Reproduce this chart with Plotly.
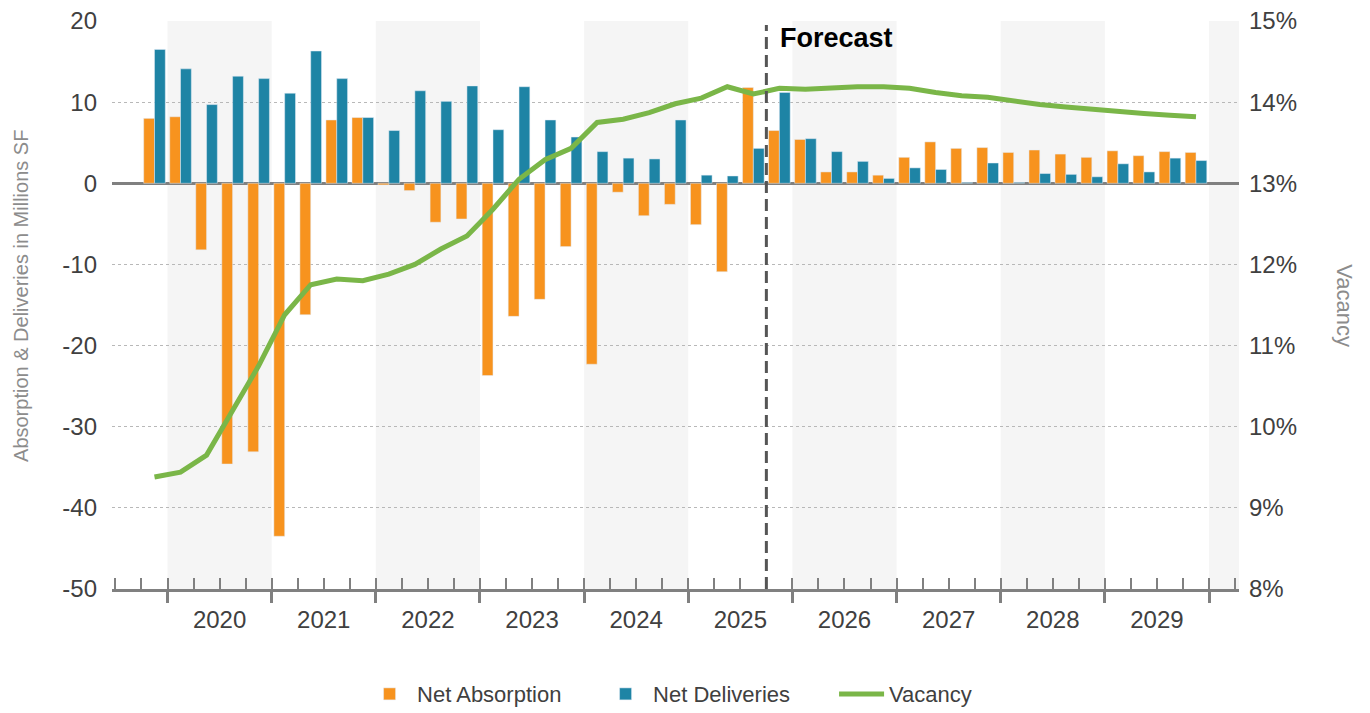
import plotly.graph_objects as go

# Quarterly absorption / deliveries (millions SF) and vacancy (%), 2019 Q4 - 2029 Q4
quarters = ["2019 Q4"] + [f"{y} Q{q}" for y in range(2020, 2030) for q in range(1, 5)]

net_absorption = [8.0,
                  8.2, -8.2, -34.6, -33.1,
                  -43.5, -16.2, 7.8, 8.1,
                  -0.2, -0.9, -4.8, -4.4,
                  -23.7, -16.4, -14.3, -7.8,
                  -22.3, -1.1, -4.0, -2.6,
                  -5.1, -10.9, 11.8, 6.5,
                  5.4, 1.4, 1.4, 1.0,
                  3.2, 5.1, 4.3, 4.4,
                  3.8, 4.1, 3.6, 3.2,
                  4.0, 3.4, 3.9, 3.8]

net_deliveries = [16.5,
                  14.1, 9.7, 13.2, 12.9,
                  11.1, 16.3, 12.9, 8.1,
                  6.5, 11.4, 10.1, 12.0,
                  6.6, 11.9, 7.8, 5.7,
                  3.9, 3.1, 3.0, 7.8,
                  1.0, 0.9, 4.3, 11.2,
                  5.5, 3.9, 2.7, 0.6,
                  1.9, 1.7, 0.1, 2.5,
                  0.1, 1.2, 1.1, 0.8,
                  2.4, 1.4, 3.1, 2.8]

vacancy = [9.38,
           9.44, 9.65, 10.21, 10.75,
           11.38, 11.75, 11.82, 11.80,
           11.88, 12.00, 12.19, 12.35,
           12.68, 13.05, 13.29, 13.43,
           13.75, 13.79, 13.87, 13.98,
           14.05, 14.19, 14.10, 14.17,
           14.16, 14.18, 14.19, 14.19,
           14.17, 14.12, 14.08, 14.06,
           14.01, 13.97, 13.94, 13.91,
           13.88, 13.86, 13.84, 13.82]

years = list(range(2020, 2030))
left_ticks = list(range(-50, 21, 10))
right_ticks = list(range(8, 16))
forecast_start = "2025 Q4"

ORANGE = "#F7931E"
TEAL = "#1E84A5"
GREEN = "#7AB648"
AXIS_GREY = "#808080"
TEXT = "#404040"
TITLE_GREY = "#8C8C8C"
FONT = "Arial, Liberation Sans, sans-serif"


def qpos(label):
    # centre of the quarter, in year units
    y, q = label.split(" Q")
    return int(y) + (int(q) - 0.5) / 4


x = [qpos(q) for q in quarters]
x_range = [2019.467, 2030.288]

fig = go.Figure()
fig.add_trace(go.Bar(x=x, y=net_absorption, name="Net Absorption", marker_color=ORANGE))
fig.add_trace(go.Bar(x=x, y=net_deliveries, name="Net Deliveries", marker_color=TEAL))
fig.add_trace(go.Scatter(x=x, y=vacancy, name="Vacancy", yaxis="y2", mode="lines",
                         line=dict(color=GREEN, width=5)))
# empty trace so the year-boundary tick axis gets drawn
fig.add_trace(go.Scatter(x=[], y=[], xaxis="x2", showlegend=False, hoverinfo="skip"))

# alternate year shading
shapes = []
for yr in range(2020, 2032, 2):
    shapes.append(dict(type="rect", xref="x", yref="paper", x0=yr, x1=yr + 1, y0=0, y1=1,
                       fillcolor="#F5F5F5", line_width=0, layer="below"))

# forecast divider
fx = qpos(forecast_start) - 0.125
shapes.append(dict(type="line", xref="x", yref="paper", x0=fx, x1=fx, y0=0, y1=0.993,
                   line=dict(color="#555555", width=3, dash="12px,6px")))

quarter_bounds = [2019.5 + 0.25 * i for i in range(44)]

# page body has an 8px margin, so the figure is a little smaller than the window
fig.update_layout(
    width=1362, height=705,
    margin=dict(l=104, r=131, t=13, b=124, autoexpand=False),
    paper_bgcolor="white", plot_bgcolor="white",
    font=dict(family=FONT, color=TEXT),
    barmode="group", bargap=0.17, bargroupgap=0,
    shapes=shapes,
    showlegend=True,
    legend=dict(orientation="h", x=0.536, xanchor="center", y=-0.185, yanchor="middle",
                font=dict(size=22, color=TEXT), traceorder="normal",
                entrywidth=176, itemwidth=45),
    xaxis=dict(range=x_range, tickmode="array", tickvals=[y + 0.5 for y in years],
               ticktext=[str(y) for y in years], ticks="", showgrid=False, zeroline=False,
               showline=True, linecolor=AXIS_GREY, linewidth=3, automargin=False,
               ticklabelstandoff=7, tickfont=dict(size=24, color=TEXT),
               minor=dict(tickmode="array", tickvals=quarter_bounds, ticks="inside",
                          ticklen=11, tickwidth=1.5, tickcolor=AXIS_GREY, showgrid=False)),
    xaxis2=dict(range=x_range, overlaying="x", anchor="y", side="bottom",
                tickmode="array", tickvals=list(range(2020, 2031)),
                ticktext=[""] * 11, ticks="outside", ticklen=13, tickwidth=3,
                tickcolor=AXIS_GREY, showgrid=False, zeroline=False, showline=False,
                automargin=False),
    yaxis=dict(range=[-50, 20], tickmode="array", tickvals=left_ticks,
               ticktext=[str(v) for v in left_ticks],
               showgrid=True, gridcolor="#B8B8B8", gridwidth=1, griddash="dot",
               zeroline=True, zerolinecolor=AXIS_GREY, zerolinewidth=3,
               showline=False, ticks="", ticklabelstandoff=14, automargin=False,
               ticklabeloverflow="allow", tickfont=dict(size=24, color=TEXT)),
    yaxis2=dict(range=[8, 15], overlaying="y", side="right", tickmode="array",
                tickvals=right_ticks, ticktext=[f"{v}%" for v in right_ticks],
                showgrid=False, zeroline=False, showline=False, ticks="",
                ticklabelstandoff=9, automargin=False, ticklabeloverflow="allow",
                tickfont=dict(size=24, color=TEXT)),
    annotations=[
        dict(text="Absorption & Deliveries in Millions SF", xref="paper", yref="paper",
             x=-0.0807, y=0.516, xanchor="center", yanchor="middle", textangle=-90,
             showarrow=False, font=dict(size=20, color=TITLE_GREY)),
        dict(text="Vacancy", xref="paper", yref="paper", x=1.094, y=0.498,
             xanchor="center", yanchor="middle", textangle=90, showarrow=False,
             font=dict(size=22, color=TITLE_GREY)),
        dict(text="<b>Forecast</b>", xref="x", yref="paper", x=fx + 0.11, y=0.970,
             xanchor="left", yanchor="middle", showarrow=False,
             font=dict(size=27, color="black")),
    ],
)

fig.write_html("out.html")
